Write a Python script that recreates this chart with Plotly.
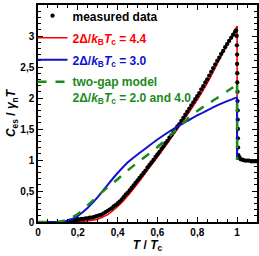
import plotly.graph_objects as go

# ---- data ----
meas_T = [0.16, 0.17, 0.18, 0.19, 0.20, 0.21, 0.22, 0.23, 0.24, 0.25, 0.26, 0.27, 0.28, 0.29,
          0.30, 0.31, 0.32, 0.33, 0.34, 0.35, 0.36, 0.37, 0.38, 0.39, 0.40, 0.41, 0.42, 0.43,
          0.44, 0.45, 0.46, 0.47, 0.48, 0.49, 0.50, 0.51, 0.52, 0.53, 0.54, 0.55, 0.56, 0.57,
          0.58, 0.59, 0.60, 0.61, 0.62, 0.63, 0.64, 0.65, 0.66, 0.67, 0.68, 0.69, 0.70, 0.71,
          0.72, 0.73, 0.74, 0.75, 0.76, 0.77, 0.78, 0.79, 0.80, 0.81, 0.82, 0.83, 0.84, 0.85,
          0.86, 0.87, 0.88, 0.89, 0.90, 0.91, 0.92, 0.93, 0.94, 0.95, 0.96, 0.97, 0.98, 0.99,
          0.995, 0.998, 0.999, 1.0, 1.0, 1.001, 1.001, 1.002, 1.002, 1.003, 1.003, 1.004, 1.004,
          1.005, 1.006, 1.008, 1.012, 1.016, 1.02, 1.03, 1.04, 1.05, 1.06, 1.07, 1.08, 1.09, 1.1]
meas_C = [0.02, 0.02, 0.03, 0.03, 0.04, 0.04, 0.05, 0.05, 0.06, 0.06, 0.07, 0.07, 0.08, 0.09,
          0.10, 0.11, 0.12, 0.14, 0.16, 0.18, 0.20, 0.22, 0.25, 0.27, 0.30, 0.33, 0.36, 0.40,
          0.44, 0.47, 0.51, 0.55, 0.59, 0.63, 0.67, 0.71, 0.75, 0.79, 0.83, 0.88, 0.92, 0.96,
          1.00, 1.05, 1.09, 1.13, 1.18, 1.22, 1.27, 1.31, 1.36, 1.40, 1.45, 1.49, 1.54, 1.58,
          1.63, 1.68, 1.73, 1.78, 1.83, 1.88, 1.93, 1.98, 2.03, 2.08, 2.14, 2.19, 2.25, 2.30,
          2.36, 2.42, 2.48, 2.54, 2.60, 2.65, 2.71, 2.76, 2.82, 2.87, 2.92, 2.97, 3.02, 3.07,
          3.09, 3.00, 2.85, 2.70, 2.55, 2.40, 2.25, 2.10, 1.95, 1.80, 1.65, 1.50, 1.35,
          1.20, 1.08, 1.05, 1.04, 1.02, 1.01, 1.00, 0.99, 0.99, 0.99, 0.98, 0.98, 0.98, 0.98]

# model curves: smooth part up to Tc, last entry is the value just above the jump at Tc
model_T = [0.0, 0.05, 0.1, 0.15, 0.2, 0.25, 0.3, 0.35, 0.4, 0.45, 0.5, 0.55, 0.6, 0.65,
           0.7, 0.75, 0.8, 0.85, 0.9, 0.95, 1.0, 1.0]
red_C = [0.0, 0.0, 0.0, 0.0, 0.005, 0.02, 0.05, 0.12, 0.25, 0.42, 0.62, 0.84, 1.05, 1.27,
         1.5, 1.73, 1.97, 2.24, 2.55, 2.86, 3.16, 1.0]
blue_C = [0.0, 0.0, 0.0, 0.02, 0.1, 0.23, 0.4, 0.6, 0.79, 0.96, 1.09, 1.21, 1.33, 1.44,
          1.54, 1.63, 1.72, 1.8, 1.88, 1.95, 2.01, 1.0]
green_C = [0.0, 0.0, 0.0, 0.04, 0.13, 0.27, 0.42, 0.56, 0.69, 0.83, 0.96, 1.08, 1.21, 1.35,
           1.51, 1.66, 1.79, 1.9, 2.0, 2.11, 2.21, 1.0]

x_ticks = [0, 0.2, 0.4, 0.6, 0.8, 1.0]
x_labels = ["0", "0,2", "0,4", "0,6", "0,8", "1"]
y_ticks = [0, 0.5, 1, 1.5, 2, 2.5, 3, 3.5]
y_labels = ["0", "0,5", "1", "1,5", "2", "2,5", "3", "3,5"]

RED, BLUE, GREEN = "#ff0000", "#1010d0", "#1a8a1a"
GAP = "2Δ/<i>k</i><sub>B</sub><i>T</i><sub>c</sub>"
FONT = "Liberation Sans, Arial, sans-serif"


def colored(text, color):
    return "<span style='color:%s'>%s</span>" % (color, text)


def add_model(fig, ys, name, line, rank, group):
    # smooth part
    fig.add_trace(go.Scatter(x=model_T[:-1], y=ys[:-1], mode="lines", name=name,
                             legendgroup=group, legendrank=rank,
                             line=dict(shape="spline", smoothing=0.6, **line)))
    # vertical jump at Tc
    fig.add_trace(go.Scatter(x=model_T[-2:], y=ys[-2:], mode="lines", showlegend=False,
                             legendgroup=group, line=dict(shape="linear", **line)))


fig = go.Figure()
add_model(fig, red_C, colored(GAP + " = 4.4", RED), dict(color=RED, width=1.6), 2, "b")
fig.add_trace(go.Scatter(x=meas_T, y=meas_C, mode="markers", name="measured data",
                         legendgroup="a", legendrank=1, marker=dict(color="black", size=4.3)))
add_model(fig, blue_C, colored(GAP + " = 3.0", BLUE), dict(color=BLUE, width=2), 3, "c")
add_model(fig, green_C,
          colored("two-gap model", GREEN) + "<br>" + colored(GAP + " = 2.0 and 4.0", GREEN),
          dict(color=GREEN, width=2.5, dash="dash"), 4, "d")

axis_common = dict(
    showline=True, linecolor="black", linewidth=1.5, mirror="ticks",
    ticks="inside", ticklen=5, tickwidth=1, tickcolor="black",
    showgrid=False, zeroline=False, automargin=False,
    tickfont=dict(family=FONT, size=10, color="black", weight="bold"),
)

fig.update_xaxes(range=[0, 1.1], tickvals=x_ticks, ticktext=x_labels,
                 minor=dict(dtick=0.05, ticks="inside", ticklen=3, tickcolor="black"),
                 title=dict(text="<i>T</i> / <i>T</i><sub>c</sub>", standoff=0,
                            font=dict(family=FONT, size=12, color="black", weight="bold")),
                 **axis_common)
fig.update_yaxes(range=[0, 3.5], tickvals=y_ticks, ticktext=y_labels,
                 minor=dict(dtick=0.1, ticks="inside", ticklen=3, tickcolor="black"),
                 title=dict(text="<i>C</i><sub>es</sub> / <i>γ</i><sub>n</sub><i>T</i>", standoff=2,
                            font=dict(family=FONT, size=12, color="black", weight="bold")),
                 **axis_common)

fig.update_layout(
    width=259, height=256,
    margin=dict(l=38, r=2, t=4, b=34),
    paper_bgcolor="white", plot_bgcolor="white",
    showlegend=True,
    legend=dict(x=-0.025, y=1.012, xanchor="left", yanchor="top",
                bgcolor="rgba(0,0,0,0)", borderwidth=0,
                font=dict(family=FONT, size=12, color="black", weight="bold"),
                tracegroupgap=3, valign="top", itemwidth=30, traceorder="grouped"),
)

fig.write_html("out.html", config={"displayModeBar": False},
               post_script="document.body.style.margin='0';document.body.style.overflow='hidden';")
